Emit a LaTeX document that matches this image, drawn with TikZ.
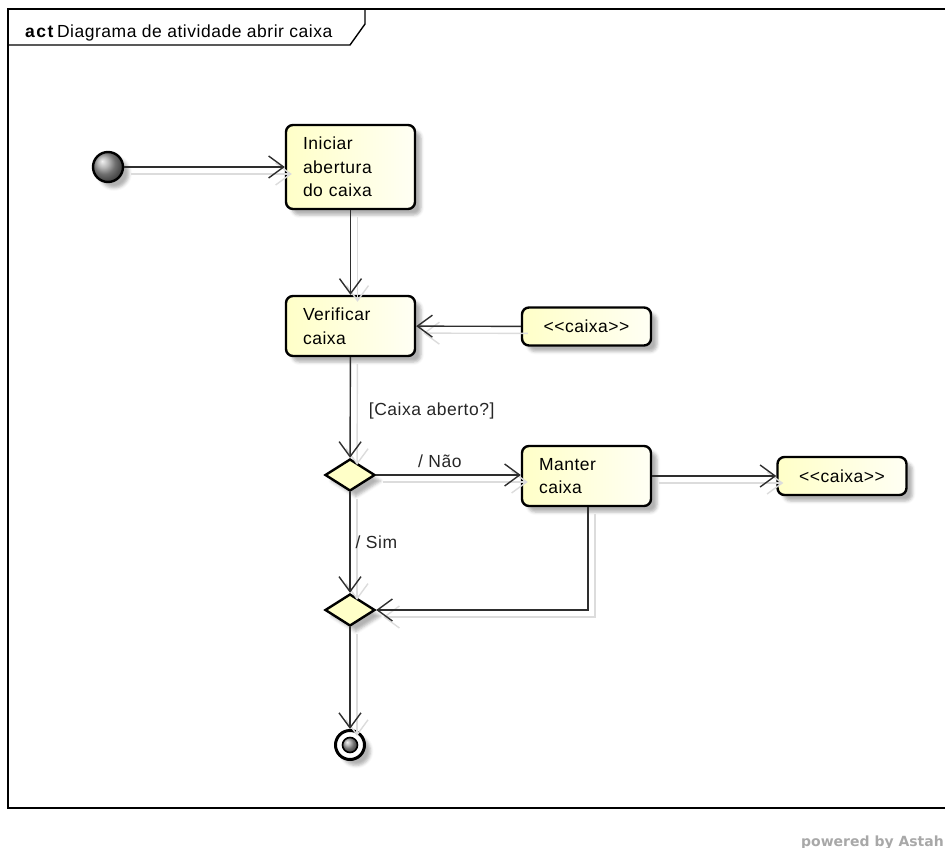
\documentclass[tikz,border=0pt]{standalone}
\usepackage{fontspec}
\setmainfont{Liberation Sans}[LetterSpace=3, Ligatures={TeXOff,CommonOff}]
\newfontfamily\brandfont{DejaVu Sans}
\usetikzlibrary{arrows.meta,shapes.geometric,shadows.blur}

\definecolor{wire}{HTML}{2E2E2E}
\definecolor{wireshade}{HTML}{DCDCDC}
\definecolor{cream}{HTML}{FFFFC8}
\definecolor{creamlight}{HTML}{FFFFF4}
\definecolor{brandgray}{HTML}{A8A8A8}

\begin{document}
\begin{tikzpicture}[x=1pt,y=-1pt,
  font=\fontsize{17.5}{23.5}\selectfont,
  tip/.style={-{Straight Barb[length=15pt,width=22pt,line width=1.4pt]}},
  flow/.style={draw=wire, line width=1.4pt, tip,
    preaction={draw=wireshade, line width=1.4pt, tip,
      transform canvas={shift={(7,7)}}}},
  softshadow/.style={blur shadow={shadow xshift=6pt, shadow yshift=-6pt,
    shadow blur radius=3pt, shadow opacity=30}},
  action/.style={draw=black, line width=2.4pt, rounded corners=7pt,
    left color=cream, right color=creamlight, softshadow,
    inner xsep=17pt, inner ysep=0pt, align=left, text width=95pt,
    minimum width=129pt},
  pin/.style={draw=black, line width=2.4pt, rounded corners=7pt,
    left color=cream, right color=creamlight, softshadow,
    minimum width=129pt, minimum height=38pt, inner sep=0pt},
  branch/.style={diamond, draw=black, line width=2.4pt, fill=cream,
    softshadow, minimum width=50pt, minimum height=32pt, inner sep=0pt},
  lbl/.style={inner sep=0pt, text=black!85}
]
\useasboundingbox (0,0) rectangle (945,848);
\clip (0,0) rectangle (945,848);

% diagram frame and its title tab
\draw[line width=1.4pt] (960,9) -- (8,9) -- (8,808) -- (960,808);
\draw[line width=1.4pt] (365,9) -- (365,24) -- (350,45) -- (8,45);
\node[anchor=base west, inner sep=0pt] (title) at (25,38)
  {\textbf{a\kern1.5pt c\kern1.5pt t}\hspace{3pt}Diagrama de atividade abrir caixa};

% initial node
\node[circle, draw=black, line width=2.4pt, ball color=gray!75,
  minimum size=30pt, inner sep=0pt, softshadow] (init) at (108,167) {};

% actions
\node[action, minimum height=84pt] (iniciar) at (350.5,167)
  {Iniciar\\abertura\\do caixa};
\node[action, minimum height=60pt] (verificar) at (350.5,326)
  {Verificar\\caixa};
\node[action, minimum height=60pt] (manter) at (586.5,476)
  {Manter\\caixa};

% object pins
\node[pin] (caixaIn) at (586.5,326.5) {<<caixa>>};
\node[pin] (caixaOut) at (842,476) {<<caixa>>};

% decision and merge
\node[branch] (decide) at (350,475) {};
\node[branch] (merge) at (350,610) {};

% final node
\node[circle, draw=black, line width=3pt, fill=white,
  minimum size=29pt, inner sep=0pt, softshadow] (final) at (350,745) {};
\node[circle, draw=black, line width=1.6pt, ball color=gray!75,
  minimum size=15pt, inner sep=0pt] (finalcore) at (final) {};

% control and object flows
\draw[flow] (init) -- (iniciar);
\draw[flow] (iniciar) -- (verificar);
\draw[flow] (caixaIn) -- (verificar);
\draw[flow] (verificar) -- node[lbl, pos=0.53, anchor=west, xshift=18pt]
  {[Caixa aberto?]} (decide);
\draw[flow] (decide) -- node[lbl, pos=0.44, anchor=south, yshift=7pt]
  {/ Não} (manter.west |- decide);
\draw[flow] (manter.east |- caixaOut) -- (caixaOut);
\draw[flow] (decide) -- node[lbl, pos=0.5, anchor=west, xshift=5pt]
  {/ Sim} (merge);
\draw[flow] ([xshift=1.5pt]manter.south) |- (merge.east);
\draw[flow] (merge) -- (final);

% vendor footer
\node[anchor=base east, inner sep=0pt, text=brandgray,
  font=\brandfont\bfseries\fontsize{14}{16}\selectfont] (brand) at (944,846)
  {powered by Astah};
\end{tikzpicture}
\end{document}
